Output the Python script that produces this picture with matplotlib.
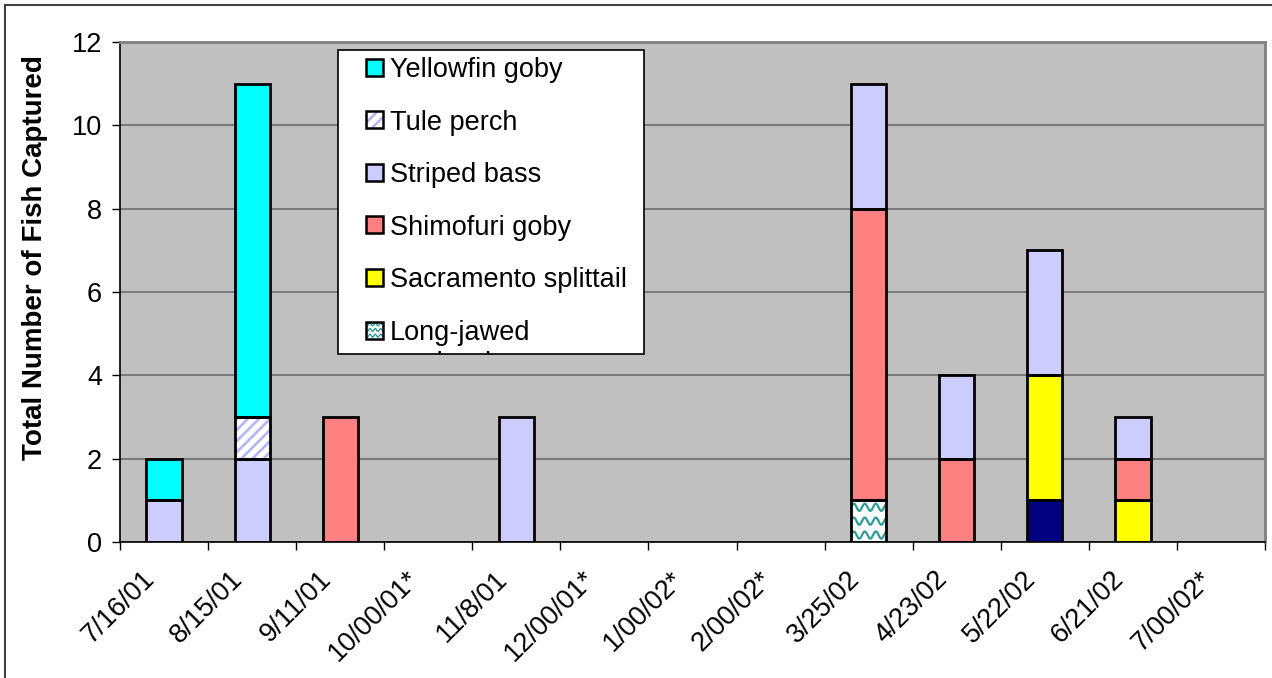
import numpy as np
import matplotlib
matplotlib.use("Agg")
import matplotlib.pyplot as plt
import matplotlib.transforms as mtrans
from matplotlib.patches import Rectangle

plt.rcParams['font.family'] = ['Liberation Sans', 'DejaVu Sans']
plt.rcParams['hatch.linewidth'] = 2.0

# sampling dates (x categories)
dates = ["7/16/01", "8/15/01", "9/11/01", "10/00/01*", "11/8/01", "12/00/01*",
         "1/00/02*", "2/00/02*", "3/25/02", "4/23/02", "5/22/02", "6/21/02", "7/00/02*"]

# counts per species, stacked bottom -> top
unidentified = [0, 0, 0, 0, 0, 0, 0, 0, 0, 0, 1, 0, 0]
long_jawed   = [0, 0, 0, 0, 0, 0, 0, 0, 1, 0, 0, 0, 0]
splittail    = [0, 0, 0, 0, 0, 0, 0, 0, 0, 0, 3, 1, 0]
shimofuri    = [0, 0, 3, 0, 0, 0, 0, 0, 7, 2, 0, 1, 0]
striped_bass = [1, 2, 0, 0, 3, 0, 0, 0, 3, 2, 3, 1, 0]
tule_perch   = [0, 1, 0, 0, 0, 0, 0, 0, 0, 0, 0, 0, 0]
yellowfin    = [1, 8, 0, 0, 0, 0, 0, 0, 0, 0, 0, 0, 0]

names = ["Unidentified", "Long-jawed\nmudsucker", "Sacramento splittail",
         "Shimofuri goby", "Striped bass", "Tule perch", "Yellowfin goby"]
series = [unidentified, long_jawed, splittail, shimofuri, striped_bass, tule_perch, yellowfin]

# style: (facecolor, pattern)
styles = [("#000080", None), ("white", "wave"), ("#ffff00", None), ("#ff8080", None),
          ("#ccccff", None), ("white", "stripe"), ("#00ffff", None)]

WAVE_COLOR = "#2e9a9a"
STRIPE_COLOR = "#b8b8f4"
FS = 19.5


def draw_waves(ax, x0, y0, w, h, clip, lw, rows=3, cycles=3.2, amp=0.13):
    xs = np.linspace(x0, x0 + w, 200)
    for k in range(rows):
        yc = y0 + (k + 0.5) * h / rows
        ys = yc + amp * h / rows * 2 * np.sin(2 * np.pi * cycles * (xs - x0) / w)
        ln, = ax.plot(xs, ys, color=WAVE_COLOR, lw=lw, zorder=3, solid_capstyle='butt')
        ln.set_clip_path(clip)


def draw_box(ax, x0, y0, w, h, face, pattern, lw, wave_lw, z=2):
    if pattern == "stripe":
        base = Rectangle((x0, y0), w, h, facecolor="white", edgecolor=STRIPE_COLOR,
                         hatch="///", linewidth=0, zorder=z)
    else:
        base = Rectangle((x0, y0), w, h, facecolor=face, edgecolor="none", zorder=z)
    ax.add_patch(base)
    if pattern == "wave":
        draw_waves(ax, x0, y0, w, h, base, wave_lw)
    ax.add_patch(Rectangle((x0, y0), w, h, fill=False, edgecolor="black",
                           linewidth=lw, zorder=4))


fig = plt.figure(figsize=(12.72, 6.78), dpi=100)
ax = fig.add_axes([120 / 1272, 1 - 542 / 678, 1145 / 1272, 500 / 678])
ax.set_facecolor("#c0c0c0")

x = np.arange(len(dates))
width = 0.4
bottom = np.zeros(len(dates))
for vals, (face, pattern) in zip(series, styles):
    vals = np.array(vals, dtype=float)
    for i in np.nonzero(vals)[0]:
        draw_box(ax, x[i] - width / 2, bottom[i], width, vals[i], face, pattern, 2.0, 1.6)
    bottom += vals

ax.set_xlim(-0.5, len(dates) - 0.5)
ax.set_ylim(0, 12)
ax.set_yticks(np.arange(0, 13, 2))
ax.yaxis.grid(True, color="#6e6e6e", linewidth=1.2)
ax.set_axisbelow(True)
ax.tick_params(axis='y', direction='out', length=6, width=1, labelsize=FS, pad=7)

ax.set_xticks(x)
ax.set_xticklabels(dates, rotation=45, ha='right', va='center', rotation_mode='anchor', fontsize=FS)
ax.set_xticks(np.arange(-0.5, len(dates)), minor=True)
ax.tick_params(axis='x', which='major', length=0, pad=24)
ax.tick_params(axis='x', which='minor', direction='out', length=6, width=1)
shift = mtrans.ScaledTranslation(-13 / 100, 0, fig.dpi_scale_trans)
for lbl in ax.get_xticklabels():
    lbl.set_transform(lbl.get_transform() + shift)

for side in ("top", "right"):
    ax.spines[side].set_color("#808080")
    ax.spines[side].set_linewidth(2)
for side in ("left", "bottom"):
    ax.spines[side].set_color("black")
    ax.spines[side].set_linewidth(1.2)

fig.text(35 / 1272, 1 - 258 / 678, "Total Number of Fish Captured", rotation=90,
         ha='center', va='center', fontsize=20, fontweight='bold')

# legend box (clipped like in the original)
lax = fig.add_axes([338 / 1272, 1 - 354 / 678, 306 / 1272, 304 / 678])
lax.set_xlim(0, 306)
lax.set_ylim(304, 0)
lax.set_axis_off()
lax.add_patch(Rectangle((0, 0), 306, 304, facecolor="white", edgecolor="none", zorder=0))
row_y = 17
for name, (face, pattern) in zip(names[::-1], styles[::-1]):
    draw_box(lax, 28, row_y - 8.5, 17, 17, face, pattern, 1.8, 1.0)
    lax.text(52, row_y - 10, name, fontsize=FS, va='top', ha='left', clip_on=True,
             linespacing=1.25)
    row_y += 52.6
fig.add_artist(Rectangle((338 / 1272, 1 - 354 / 678), 306 / 1272, 304 / 678,
                         transform=fig.transFigure, fill=False, edgecolor="black", linewidth=1.2))

# outer chart border
fig.add_artist(Rectangle((5 / 1272, -0.1), 1.2, 1.1 - 5 / 678, transform=fig.transFigure,
                         fill=False, edgecolor="#404040", linewidth=1.5))

fig.savefig("out.png", dpi=100)
